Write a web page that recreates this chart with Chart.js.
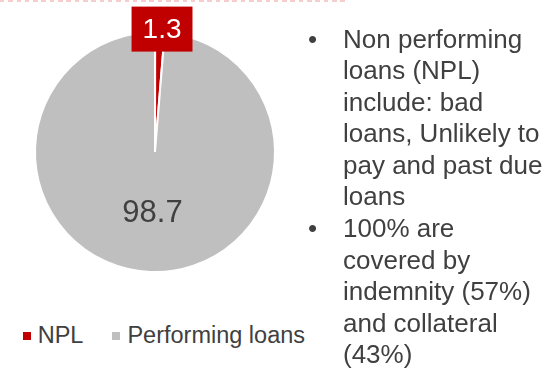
<!DOCTYPE html>
<html>
<head>
<meta charset="utf-8">
<script src="https://cdn.jsdelivr.net/npm/chart.js@4.4.0/dist/chart.umd.min.js"></script>
<style>
  body { margin: 0; background: #fff; width: 548px; height: 371px; overflow: hidden; position: relative; font-family: "Liberation Sans", Arial, sans-serif; }
  #rule { position: absolute; left: 0; top: 0; width: 347px; height: 1.5px;
          background: repeating-linear-gradient(to right, #f7cccc 0 4.5px, transparent 4.5px 8.3px); }
  #pie { position: absolute; left: 0; top: 0; }
  #legend { position: absolute; left: 22.7px; top: 321px; height: 28px; display: flex; align-items: center;
            font-size: 23.5px; color: #404040; white-space: nowrap; }
  #legend .item { display: flex; align-items: center; }
  #legend .item + .item { margin-left: 29px; }
  #legend .box { width: 8px; height: 8px; margin-right: 7px; margin-top: 2px; }
  ul.notes { position: absolute; left: 343px; top: 23.5px; margin: 0; padding: 0; list-style: none;
             font-size: 26px; line-height: 31.6px; color: #404040; white-space: nowrap; }
  ul.notes li { position: relative; }
  ul.notes li::before { content: "\2022"; position: absolute; left: -35px; }
</style>
</head>
<body>
<div id="rule"></div>
<canvas id="pie" width="310" height="304"></canvas>
<div id="legend"></div>
<ul class="notes">
  <li>Non performing<br>loans (NPL)<br>include: bad<br>loans, Unlikely to<br>pay and past due<br>loans</li>
  <li>100% are<br>covered by<br>indemnity (57%)<br>and collateral<br>(43%)</li>
</ul>
<script>
const categories = ["NPL", "Performing loans"]
const shares = [1.3, 98.7]
const colors = ["#c00000", "#bfbfbf"]

const textColor = "#404040"
const fontFamily = '"Liberation Sans", Arial, sans-serif'
Chart.defaults.font.family = fontFamily

// value labels: NPL sits outside in a red tag, the big slice is labelled inside
const sliceLabels = {
    id: "sliceLabels",
    afterDatasetsDraw(chart) {
        const ctx = chart.ctx
        const arcs = chart.getDatasetMeta(0).data
        arcs.forEach((arc, i) => {
            const { x, y, startAngle, endAngle, outerRadius } =
                arc.getProps(["x", "y", "startAngle", "endAngle", "outerRadius"], true)
            const mid = (startAngle + endAngle) / 2
            const text = shares[i].toFixed(1)
            ctx.save()
            ctx.textAlign = "center"
            ctx.textBaseline = "middle"
            if (i === 0) {
                ctx.font = "28px " + fontFamily
                const r = outerRadius + 3
                const cx = x + Math.cos(mid) * r + 2
                const cy = y + Math.sin(mid) * r
                const w = ctx.measureText(text).width + 22
                const h = 45
                ctx.fillStyle = colors[0]
                ctx.fillRect(cx - w / 2, cy - h / 2, w, h)
                ctx.fillStyle = "#ffffff"
                ctx.fillText(text, cx, cy + 1)
            } else {
                ctx.font = "31px " + fontFamily
                const r = outerRadius * 0.51
                ctx.fillStyle = textColor
                ctx.fillText(text, x + Math.cos(mid) * r, y + Math.sin(mid) * r)
            }
            ctx.restore()
        })
    }
}

// legend rendered as html, built from the chart's own legend items
const htmlLegend = {
    id: "htmlLegend",
    afterUpdate(chart) {
        const el = document.getElementById("legend")
        el.innerHTML = ""
        const items = chart.options.plugins.legend.labels.generateLabels(chart)
        items.forEach(item => {
            const row = document.createElement("span")
            row.className = "item"
            const box = document.createElement("span")
            box.className = "box"
            box.style.background = item.fillStyle
            const label = document.createElement("span")
            label.textContent = item.text
            row.appendChild(box)
            row.appendChild(label)
            el.appendChild(row)
        })
    }
}

new Chart(document.getElementById("pie"), {
    type: "pie",
    data: {
        labels: categories,
        datasets: [{
            data: shares,
            backgroundColor: colors,
            borderColor: "#ffffff",
            borderWidth: 2,
            offset: [4, 0],
            radius: 120,
        }]
    },
    options: {
        responsive: false,
        animation: false,
        devicePixelRatio: 1,
        plugins: {
            tooltip: { enabled: false },
            legend: { display: false }
        }
    },
    plugins: [sliceLabels, htmlLegend]
})
</script>
</body>
</html>
